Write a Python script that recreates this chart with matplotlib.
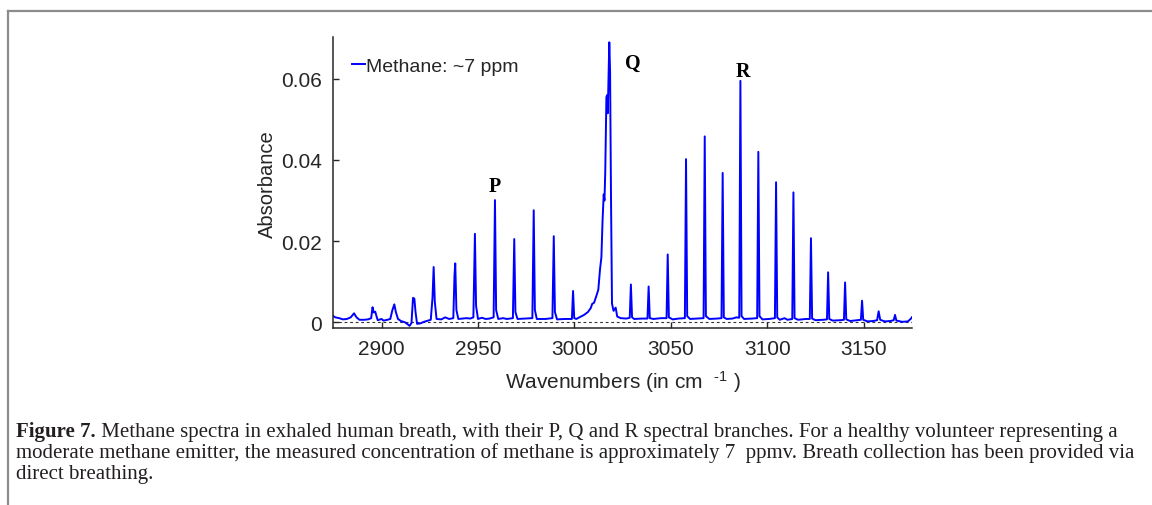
import numpy as np
import matplotlib
matplotlib.use("Agg")
import matplotlib.pyplot as plt
from matplotlib.lines import Line2D

# ── Spectrum (wavenumber in cm^-1, absorbance) ────────────────────────────────
wavenumber = [
    2875.0, 2876.0, 2878.0, 2880.0, 2882.0, 2884.0, 2885.7, 2887.0, 2888.5, 2891.0,
    2893.0, 2894.6, 2895.3, 2895.9, 2896.7, 2897.4, 2898.0, 2900.0, 2901.0, 2903.0,
    2904.5, 2905.6, 2906.6, 2907.4, 2908.5, 2910.0, 2912.0, 2913.5, 2914.5, 2915.5,
    2916.3, 2917.0, 2917.6, 2918.4, 2920.0, 2922.0, 2924.0, 2925.5, 2926.4, 2927.0,
    2927.6, 2928.5, 2931.0, 2933.0, 2935.0, 2937.2, 2937.8, 2938.2, 2938.8, 2939.8,
    2942.0, 2944.0, 2946.0, 2947.6, 2948.4, 2949.0, 2950.0, 2952.0, 2954.0, 2956.0,
    2958.1, 2958.8, 2959.4, 2960.5, 2963.0, 2965.0, 2968.1, 2968.8, 2969.4, 2970.5,
    2974.0, 2978.2, 2978.9, 2979.5, 2980.5, 2985.0, 2988.6, 2989.3, 2989.9, 2991.0,
    2995.0, 2998.7, 2999.3, 2999.9, 3001.0, 3003.0, 3005.0, 3007.0, 3008.5, 3009.2,
    3010.2, 3011.2, 3012.4, 3013.3, 3014.0, 3014.6, 3015.2, 3015.6, 3016.0, 3016.6,
    3017.0, 3017.3, 3017.7, 3018.1, 3018.5, 3019.0, 3019.5, 3020.3, 3021.4, 3022.2,
    3024.0, 3027.0, 3028.7, 3029.3, 3029.9, 3031.0, 3035.0, 3037.9, 3038.5, 3039.1,
    3041.0, 3045.0, 3047.8, 3048.4, 3049.0, 3051.0, 3054.0, 3057.3, 3057.9, 3058.5,
    3060.0, 3064.0, 3067.0, 3067.6, 3068.2, 3070.0, 3074.0, 3076.3, 3076.9, 3077.5,
    3079.0, 3082.0, 3084.0, 3085.5, 3086.1, 3086.7, 3088.0, 3092.0, 3094.8, 3095.4,
    3096.0, 3097.5, 3101.0, 3104.0, 3104.6, 3105.2, 3106.5, 3109.0, 3110.5, 3113.0,
    3113.6, 3114.2, 3116.0, 3120.0, 3122.1, 3122.7, 3123.3, 3125.0, 3129.0, 3131.0,
    3131.6, 3132.2, 3134.0, 3138.0, 3139.8, 3140.4, 3141.0, 3143.0, 3147.0, 3148.6,
    3149.2, 3149.8, 3152.0, 3155.0, 3157.0, 3157.8, 3158.6, 3161.0, 3164.0, 3165.6,
    3166.3, 3167.0, 3170.0, 3173.0, 3174.6, 3175.0,
]
absorbance = [
    0.0015, 0.0012, 0.0010, 0.0007, 0.0008, 0.0012, 0.0022, 0.0012, 0.0006, 0.0006,
    0.0007, 0.0010, 0.0037, 0.0024, 0.0026, 0.0014, 0.0005, 0.0008, 0.0004, 0.0006,
    0.0008, 0.0030, 0.0044, 0.0025, 0.0008, 0.0003, 0.0000, -0.0005, -0.0009, -0.0002,
    0.0060, 0.0058, 0.0025, -0.0004, -0.0003, 0.0001, 0.0004, 0.0006, 0.0060, 0.0136,
    0.0050, 0.0008, 0.0007, 0.0012, 0.0008, 0.0010, 0.0115, 0.0145, 0.0030, 0.0008,
    0.0009, 0.0010, 0.0009, 0.0012, 0.0218, 0.0040, 0.0008, 0.0011, 0.0008, 0.0009,
    0.0012, 0.0301, 0.0030, 0.0008, 0.0010, 0.0008, 0.0010, 0.0205, 0.0025, 0.0008,
    0.0009, 0.0010, 0.0276, 0.0030, 0.0008, 0.0008, 0.0010, 0.0212, 0.0025, 0.0007,
    0.0008, 0.0008, 0.0077, 0.0010, 0.0008, 0.0013, 0.0018, 0.0025, 0.0035, 0.0045,
    0.0048, 0.0062, 0.0080, 0.0131, 0.0160, 0.0250, 0.0315, 0.0300, 0.0370, 0.0555,
    0.0560, 0.0515, 0.0600, 0.0690, 0.0620, 0.0300, 0.0046, 0.0028, 0.0036, 0.0014,
    0.0010, 0.0009, 0.0011, 0.0093, 0.0012, 0.0008, 0.0009, 0.0009, 0.0088, 0.0010,
    0.0008, 0.0010, 0.0010, 0.0167, 0.0012, 0.0007, 0.0009, 0.0010, 0.0402, 0.0015,
    0.0008, 0.0009, 0.0010, 0.0458, 0.0015, 0.0008, 0.0009, 0.0010, 0.0368, 0.0012,
    0.0008, 0.0009, 0.0012, 0.0011, 0.0595, 0.0015, 0.0008, 0.0009, 0.0010, 0.0420,
    0.0015, 0.0007, 0.0008, 0.0010, 0.0345, 0.0012, 0.0006, 0.0010, 0.0006, 0.0008,
    0.0320, 0.0010, 0.0006, 0.0008, 0.0008, 0.0207, 0.0009, 0.0005, 0.0006, 0.0007,
    0.0123, 0.0008, 0.0004, 0.0005, 0.0006, 0.0098, 0.0007, 0.0003, 0.0005, 0.0006,
    0.0053, 0.0006, 0.0002, 0.0003, 0.0005, 0.0027, 0.0006, 0.0002, 0.0003, 0.0005,
    0.0018, 0.0004, 0.0001, 0.0002, 0.0009, 0.0012,
]

# branch labels and the peak they sit on
branch_labels = ["P", "Q", "R"]
branch_peak_wn = [2958.8, 3018.1, 3086.1]
branch_peak_abs = [0.0301, 0.0690, 0.0595]

x_ticks = [2900, 2950, 3000, 3050, 3100, 3150]
y_ticks = [0, 0.02, 0.04, 0.06]
y_ticklabels = ["0", "0.02", "0.04", "0.06"]

caption_bold = "Figure 7."
caption_lines = [
    " Methane spectra in exhaled human breath, with their P, Q and R spectral branches. For a healthy volunteer representing a",
    "moderate methane emitter, the measured concentration of methane is approximately 7  ppmv. Breath collection has been provided via",
    "direct breathing.",
]

# ── Figure ───────────────────────────────────────────────────────────────────
plt.rcParams["font.family"] = ["Liberation Sans", "DejaVu Sans"]
plt.rcParams["mathtext.fontset"] = "custom"
plt.rcParams["mathtext.rm"] = "Liberation Sans"
plt.rcParams["mathtext.it"] = "Liberation Sans"

W, H = 1152, 506
fig = plt.figure(figsize=(W / 100, H / 100), dpi=100)
ax = fig.add_axes([333.4 / W, 1 - 329.3 / H, (911.8 - 333.4) / W, (329.3 - 38) / H])

dark = "#262626"
ax.plot(wavenumber, absorbance, color="#0000ff", lw=1.4, label="Methane: ~7 ppm")
ax.axhline(0, color="#333333", lw=0.8, ls=(0, (2.5, 2.5)), zorder=1)

ax.set_xlim(2875, 3175)
ax.set_ylim(-0.0015, 0.0703)
ax.set_xticks(x_ticks)
ax.set_yticks(y_ticks)
ax.set_yticklabels(y_ticklabels)

for side in ["top", "right"]:
    ax.spines[side].set_visible(False)
for side in ["left", "bottom"]:
    ax.spines[side].set_linewidth(1.1)
    ax.spines[side].set_color(dark)
ax.tick_params(axis="both", direction="in", length=4.5, width=1.0, color=dark,
               labelcolor=dark, labelsize=15)
ax.tick_params(axis="y", pad=8)
ax.tick_params(axis="x", pad=8)

ax.set_ylabel("Absorbance", fontsize=14.5, color=dark, labelpad=3)
ax.set_xlabel(r"Wavenumbers (in cm  $^{\text{-1}}$ )", fontsize=15, color=dark, labelpad=7)

ax.legend(loc="center left", bbox_to_anchor=(0.033, 0.90), frameon=False, fontsize=14,
          handlelength=0.65, handletextpad=0.05, borderpad=0, borderaxespad=0,
          labelcolor=dark)

offsets = [(0, 10), (17, -14.5), (2, 7)]
for lab, wn, ab, off in zip(branch_labels, branch_peak_wn, branch_peak_abs, offsets):
    ax.annotate(lab, xy=(wn, ab), xytext=off, textcoords="offset points",
                ha="center", va="center", fontsize=14.5, fontweight="bold",
                family="Liberation Serif", color="black")

# ── Caption ──────────────────────────────────────────────────────────────────
cap_kw = dict(family="Liberation Serif", fontsize=15.0, color="#231f20")
y0 = 1 - 437 / H
line_step = 21 / H
t_bold = fig.text(16 / W, y0, caption_bold, fontweight="bold", va="baseline", **cap_kw)
ax.annotate(caption_lines[0], xy=(1, 0), xycoords=t_bold, va="bottom", ha="left",
            annotation_clip=False, **cap_kw)
for i, line in enumerate(caption_lines[1:], start=1):
    fig.text(16 / W, y0 - i * line_step, line, va="baseline", **cap_kw)

# ── Page frame ───────────────────────────────────────────────────────────────
frame_kw = dict(color="#8c8c8c", lw=1.6, transform=fig.transFigure)
fig.add_artist(Line2D([8 / W, 1.0], [1 - 12 / H, 1 - 12 / H], **frame_kw))
fig.add_artist(Line2D([8 / W, 8 / W], [0.0, 1 - 12 / H], **frame_kw))

fig.savefig("out.png", dpi=100)
